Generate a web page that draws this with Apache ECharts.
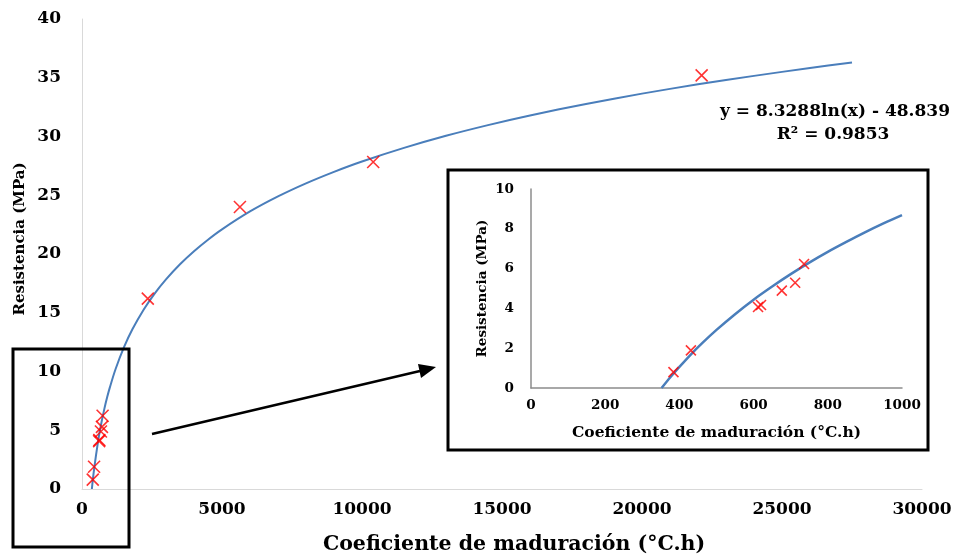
<!DOCTYPE html>
<html><head><meta charset="utf-8">
<script src="https://cdn.jsdelivr.net/npm/echarts@6/dist/echarts.min.js"></script>
<style>html,body{margin:0;padding:0;background:#fff}#c{width:966px;height:558px}</style>
</head><body><div id="c"></div>
<script>
// Measured points (coeficiente de maduración °C.h, resistencia MPa)
const maturity = [384, 431, 612, 620, 676, 712, 736, 2350, 5640, 10400, 22130];
const strength = [0.8, 1.89, 4.07, 4.17, 4.89, 5.29, 6.23, 16.2, 24.0, 27.83, 35.2];
// Inset points (same early-age specimens)
const insetMaturity = [384, 431, 612, 620, 676, 712, 736];
const insetStrength = [0.8, 1.89, 4.07, 4.17, 4.89, 5.29, 6.23];
// Logarithmic trend line
const trendX = [352, 380, 420, 470, 530, 600, 700, 800, 900, 1000, 1200, 1500, 1800, 2200, 2600, 3000, 3500, 4000, 4500, 5000, 6000, 7000, 8000, 9000, 10000, 11500, 13000, 14500, 16000, 18000, 20000, 22000, 24000, 26000, 27500];
const trendY = [0, 0.64, 1.46, 2.36, 3.35, 4.44, 5.72, 6.84, 7.82, 8.69, 10.21, 12.07, 13.59, 15.26, 16.65, 17.84, 19.13, 20.24, 21.22, 22.10, 23.62, 24.90, 26.01, 26.99, 27.87, 29.03, 30.06, 30.97, 31.79, 32.77, 33.65, 34.44, 35.16, 35.83, 36.30];
const insetTrendX = [352, 375, 400, 430, 460, 500, 550, 600, 650, 700, 750, 800, 850, 900, 950, 1000];
const insetTrendY = [0, 0.53, 1.06, 1.67, 2.23, 2.92, 3.71, 4.44, 5.10, 5.72, 6.30, 6.84, 7.34, 7.82, 8.27, 8.69];
const equationText = 'y = 8.3288ln(x) - 48.839';
const r2Text = 'R² = 0.9853';
const xTitle = 'Coeficiente de maduración (°C.h)';
const yTitle = 'Resistencia (MPa)';

const zip = (a, b) => a.map((v, i) => [v, b[i]]);
const F = 'DejaVu Serif';
const plain = v => String(v);
const crossPath = 'path://M0,0L10,10M10,0L0,10';
const chart = echarts.init(document.getElementById('c'));
chart.setOption({
  animation: false,
  backgroundColor: '#fff',
  grid: [
    {left: 82, right: 44, top: 19, bottom: 69},
    {left: 531, right: 64, top: 189, bottom: 170}
  ],
  xAxis: [
    {gridIndex: 0, type: 'value', min: 0, max: 30000, interval: 5000,
     axisLine: {show: true, lineStyle: {color: '#d9d9d9', width: 1}}, axisTick: {show: false}, splitLine: {show: false},
     axisLabel: {color: '#000', fontFamily: F, fontWeight: 'bold', fontSize: 17, margin: 12, formatter: plain}},
    {gridIndex: 1, type: 'value', min: 0, max: 1000, interval: 200,
     axisLine: {show: true, lineStyle: {color: '#8c8c8c', width: 1.5}}, axisTick: {show: false}, splitLine: {show: false},
     axisLabel: {color: '#000', fontFamily: F, fontWeight: 'bold', fontSize: 13.5, margin: 10, formatter: plain},
     name: xTitle, nameLocation: 'middle', nameGap: 37,
     nameTextStyle: {color: '#000', fontFamily: F, fontWeight: 'bold', fontSize: 15.5}}
  ],
  yAxis: [
    {gridIndex: 0, type: 'value', min: 0, max: 40, interval: 5,
     axisLine: {show: true, lineStyle: {color: '#d9d9d9', width: 1}}, axisTick: {show: false}, splitLine: {show: false},
     axisLabel: {color: '#000', fontFamily: F, fontWeight: 'bold', fontSize: 17, margin: 21, formatter: plain}},
    {gridIndex: 1, type: 'value', min: 0, max: 10, interval: 2,
     axisLine: {show: true, lineStyle: {color: '#8c8c8c', width: 1.5}}, axisTick: {show: false}, splitLine: {show: false},
     axisLabel: {color: '#000', fontFamily: F, fontWeight: 'bold', fontSize: 13.5, margin: 17, formatter: plain},
     name: yTitle, nameLocation: 'middle', nameGap: 42,
     nameTextStyle: {color: '#000', fontFamily: F, fontWeight: 'bold', fontSize: 13.5}}
  ],
  series: [
    {type: 'line', xAxisIndex: 0, yAxisIndex: 0, data: zip(trendX, trendY), smooth: 0.3,
     showSymbol: false, symbol: 'none', lineStyle: {color: '#4a7ebb', width: 2}, z: 2},
    {type: 'scatter', xAxisIndex: 0, yAxisIndex: 0, data: zip(maturity, strength), symbol: crossPath, symbolSize: 12,
     itemStyle: {color: 'none', borderColor: '#ff0000', borderWidth: 1.6}, z: 3},
    {type: 'line', xAxisIndex: 1, yAxisIndex: 1, data: zip(insetTrendX, insetTrendY), smooth: 0.3,
     showSymbol: false, symbol: 'none', lineStyle: {color: '#4a7ebb', width: 2.5}, z: 2},
    {type: 'scatter', xAxisIndex: 1, yAxisIndex: 1, data: zip(insetMaturity, insetStrength), symbol: crossPath, symbolSize: 10,
     itemStyle: {color: 'none', borderColor: '#ff0000', borderWidth: 1.6}, z: 3}
  ],
  graphic: [
    {type: 'text', x: 514, y: 545, style: {text: xTitle, fill: '#000', font: 'bold 20.5px "DejaVu Serif"', align: 'center', verticalAlign: 'middle'}},
    {type: 'text', x: 20, y: 239, rotation: Math.PI / 2, style: {text: yTitle, fill: '#000', font: 'bold 15px "DejaVu Serif"', align: 'center', verticalAlign: 'middle'}},
    {type: 'text', x: 835, y: 112, style: {text: equationText, fill: '#000', font: 'bold 17px "DejaVu Serif"', align: 'center', verticalAlign: 'middle'}},
    {type: 'text', x: 833, y: 135, style: {text: r2Text, fill: '#000', font: 'bold 17px "DejaVu Serif"', align: 'center', verticalAlign: 'middle'}},
    {type: 'rect', shape: {x: 448, y: 170, width: 480, height: 280}, style: {fill: 'none', stroke: '#000', lineWidth: 3}, z: 10},
    {type: 'rect', shape: {x: 13, y: 349, width: 116, height: 198}, style: {fill: 'none', stroke: '#000', lineWidth: 3}, z: 10},
    {type: 'line', shape: {x1: 152, y1: 434, x2: 420, y2: 371}, style: {stroke: '#000', lineWidth: 2.5}, z: 10},
    {type: 'polygon', shape: {points: [[436, 367], [418, 364], [421, 378]]}, style: {fill: '#000'}, z: 10}
  ]
});
</script></body></html>
